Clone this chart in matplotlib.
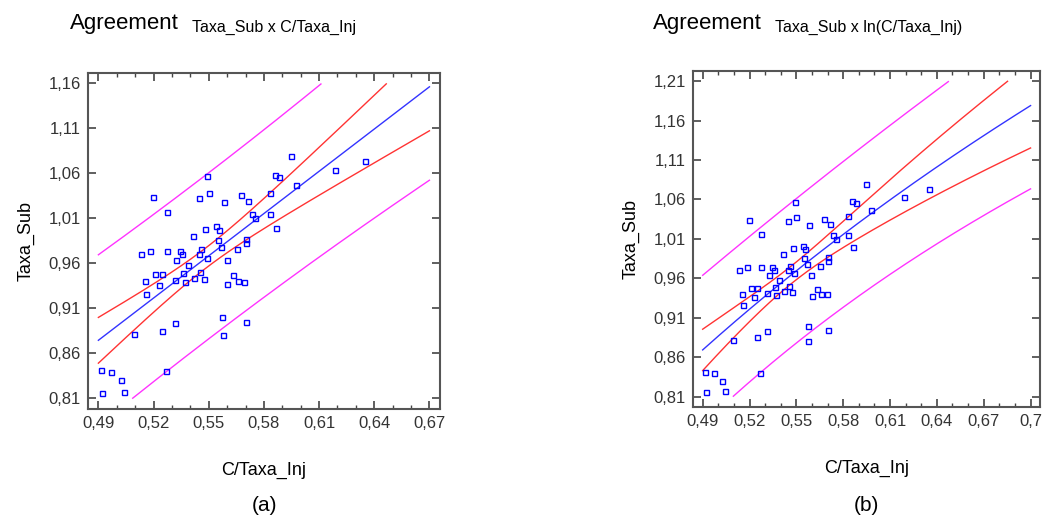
import numpy as np
import matplotlib
matplotlib.use("Agg")
import matplotlib.pyplot as plt
from matplotlib.ticker import MultipleLocator, FuncFormatter

# observed points (same data in both panels)
c_taxa_inj = [0.5945, 0.5493, 0.5197, 0.5448, 0.5499, 0.5582, 0.5674, 0.5714, 0.5833, 0.5859,
              0.5884, 0.5976, 0.6188, 0.6351, 0.5274, 0.5735, 0.5752, 0.5833, 0.5864, 0.5540,
              0.5556, 0.5479, 0.5412, 0.5551, 0.5703, 0.5703, 0.5651, 0.5566, 0.5459, 0.5448,
              0.5488, 0.5130, 0.5182, 0.5274, 0.5343, 0.5356, 0.5322, 0.5597, 0.5387, 0.5208,
              0.5247, 0.5361, 0.5453, 0.5155, 0.5228, 0.5314, 0.5370, 0.5418, 0.5473, 0.5632,
              0.5660, 0.5602, 0.5694, 0.5160, 0.5573, 0.5700, 0.5314, 0.5247, 0.5577, 0.5095,
              0.4915, 0.4971, 0.5023, 0.5041, 0.4920, 0.5269]
taxa_sub = [1.079, 1.0572, 1.0336, 1.0328, 1.0376, 1.0281, 1.0354, 1.0292, 1.0384, 1.058,
            1.0561, 1.0469, 1.0631, 1.0738, 1.0165, 1.0148, 1.0103, 1.0148, 0.9992, 1.0015,
            0.997, 0.9981, 0.9907, 0.9855, 0.9866, 0.9826, 0.976, 0.9782, 0.976, 0.9707,
            0.9663, 0.970, 0.9741, 0.9741, 0.9741, 0.970, 0.9641, 0.9641, 0.9582, 0.9482,
            0.9482, 0.9494, 0.950, 0.9408, 0.9364, 0.9416, 0.9394, 0.9438, 0.9427, 0.9471,
            0.9408, 0.9375, 0.9397, 0.9261, 0.9001, 0.895, 0.8935, 0.8854, 0.8802, 0.8813,
            0.8414, 0.8396, 0.830, 0.8174, 0.8163, 0.8403]

panel_titles = ["Taxa_Sub x C/Taxa_Inj", "Taxa_Sub x ln(C/Taxa_Inj)"]
panel_tags = ["(a)", "(b)"]
x_ranges = [(0.49, 0.67), (0.49, 0.70)]
y_ranges = [(0.81, 1.16), (0.81, 1.21)]
x_limits = [(0.4842, 0.6760), (0.4838, 0.7060)]
y_limits = [(0.7978, 1.1716), (0.7970, 1.2227)]
ax_boxes = [[0.0833, 0.2095, 0.335, 0.6502], [0.6581, 0.2143, 0.3295, 0.6486]]
title_x = [0.0665, 0.620]
subtitle_x = [0.1823, 0.736]

T_VAL = 1.997  # t(0.975, n-2)


def bands(x, y, xs, use_log):
    u = np.log(x) if use_log else x
    us = np.log(xs) if use_log else xs
    n = len(u)
    b, a = np.polyfit(u, y, 1)
    resid = y - (a + b * u)
    s = np.sqrt(np.sum(resid ** 2) / (n - 2))
    sxx = np.sum((u - u.mean()) ** 2)
    fit = a + b * us
    conf = T_VAL * s * np.sqrt(1 / n + (us - u.mean()) ** 2 / sxx)
    pred = T_VAL * s * np.sqrt(1 + 1 / n + (us - u.mean()) ** 2 / sxx)
    return fit, conf, pred


def clip(v, lo, hi):
    v = np.array(v, dtype=float)
    v[(v < lo - 1e-9) | (v > hi + 1e-9)] = np.nan
    return v


plt.rcParams['font.family'] = ['Liberation Sans', 'DejaVu Sans']
fig = plt.figure(figsize=(10.53, 5.18), dpi=100)

x = np.array(c_taxa_inj)
y = np.array(taxa_sub)
fmt = FuncFormatter(lambda v, p: f"{v:.2f}".rstrip('0').replace('.', ','))

for i in range(2):
    ax = fig.add_axes(ax_boxes[i])
    xs = np.linspace(x_ranges[i][0], x_ranges[i][1], 300)
    fit, conf, pred = bands(x, y, xs, i == 1)
    lo, hi = y_ranges[i]
    ax.plot(xs, clip(fit + pred, lo, hi), color='#ff33ff', lw=1.0)
    ax.plot(xs, clip(fit - pred, lo, hi), color='#ff33ff', lw=1.0)
    ax.plot(xs, clip(fit + conf, lo, hi), color='#ff3333', lw=1.0)
    ax.plot(xs, clip(fit - conf, lo, hi), color='#ff3333', lw=1.0)
    ax.plot(xs, clip(fit, lo, hi), color='#3333ff', lw=1.0)
    ax.plot(x, y, ls='none', marker='s', ms=3.6, mfc='none', mec='#0000ff', mew=1.0)

    ax.set_xlim(*x_limits[i])
    ax.set_ylim(*y_limits[i])
    ax.xaxis.set_minor_locator(MultipleLocator(0.01))
    ax.set_xticks(np.arange(x_ranges[i][0], x_ranges[i][1] + 0.001, 0.03))
    ax.set_yticks(np.arange(lo, hi + 0.001, 0.05))
    ax.xaxis.set_major_formatter(fmt)
    ax.yaxis.set_major_formatter(fmt)
    ax.tick_params(which='both', direction='in', top=True, right=True,
                   colors='#444444', labelcolor='#333333', labelsize=12)
    ax.tick_params(which='major', length=6, width=1.2, pad=5)
    ax.tick_params(which='minor', length=3, width=1.0)
    ax.tick_params(axis='y', which='minor', left=False, right=False)
    for sp in ax.spines.values():
        sp.set_color('#555555')
        sp.set_linewidth(1.5)

    ax.set_xlabel('C/Taxa_Inj', fontsize=13, labelpad=22)
    ax.set_ylabel('Taxa_Sub', fontsize=13, labelpad=10)

    box = ax_boxes[i]
    cx = box[0] + box[2] / 2
    fig.text(cx, 0.025, panel_tags[i], ha='center', va='center', fontsize=15)
    fig.text(title_x[i], 0.955, 'Agreement', ha='left', va='center', fontsize=16)
    fig.text(subtitle_x[i], 0.948, panel_titles[i], ha='left', va='center', fontsize=11.5,
             family=['Liberation Sans Narrow', 'Liberation Sans', 'DejaVu Sans'])

fig.savefig('out.png', dpi=100)
